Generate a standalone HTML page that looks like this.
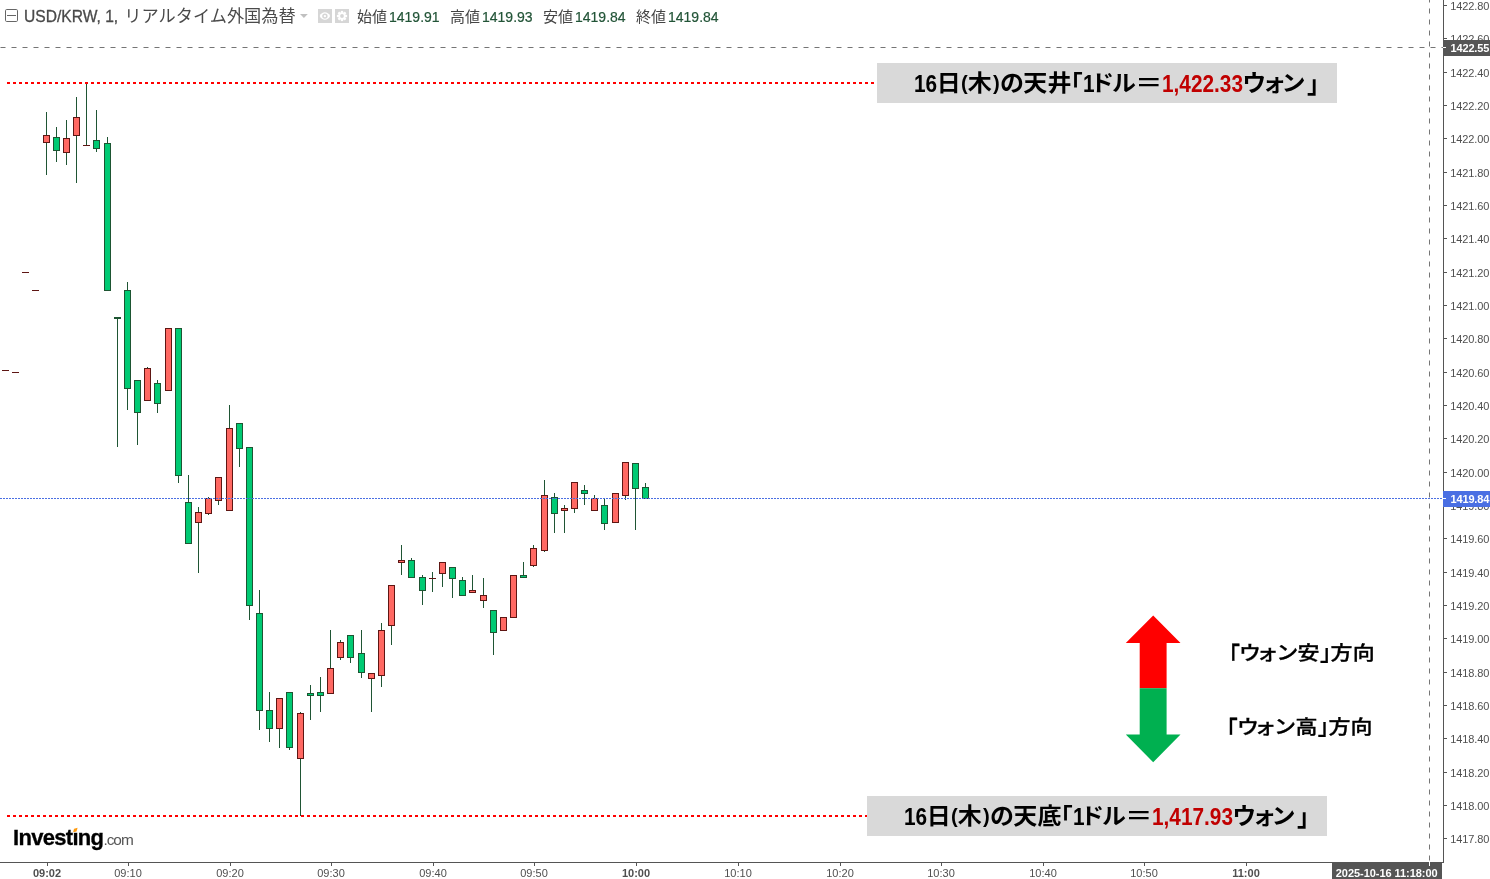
<!DOCTYPE html>
<html lang="ja">
<head>
<meta charset="utf-8">
<title>USD/KRW</title>
<style>
html,body{margin:0;padding:0;background:#fff;}
body{width:1490px;height:879px;position:relative;overflow:hidden;font-family:"Liberation Sans","Noto Sans CJK JP",sans-serif;}
#chart{position:absolute;left:0;top:0;}
.pl{position:absolute;left:1450.3px;font-size:11px;line-height:13px;color:#4f4f4f;white-space:nowrap;letter-spacing:-0.12px;}
.tl{position:absolute;top:867px;width:60px;text-align:center;font-size:11px;line-height:13px;color:#4f4f4f;white-space:nowrap;}
.tl.b{font-weight:bold;}
.tag{position:absolute;left:1443px;width:47px;height:16px;color:#fff;font-weight:bold;font-size:11px;line-height:16px;box-sizing:border-box;padding-left:7.5px;white-space:nowrap;overflow:hidden;letter-spacing:-0.15px;}
#hdr{position:absolute;left:24px;top:4px;height:24px;line-height:24px;white-space:nowrap;color:#4a4a4a;}
#hdr .en{font-size:15.6px;display:inline-block;width:100.3px;-webkit-text-stroke:0.3px #4a4a4a;}
#hdr .jp{font-size:17.2px;font-weight:400;}
.ohlc{position:absolute;top:5px;height:24px;line-height:24px;white-space:nowrap;font-size:15px;color:#444;}
.ohlc b{font-weight:normal;color:#225437;font-size:14px;margin-left:2px;-webkit-text-stroke:0.2px #225437;}
.note{position:absolute;width:460px;height:40px;background:#d9d9d9;font-weight:bold;color:#000;white-space:nowrap;}
.note span{position:absolute;top:1px;line-height:40px;white-space:nowrap;transform-origin:left center;}
.note .k{font-size:24px;transform:scale(1,0.93);}
.note .l{font-size:26px;transform:scale(0.8,0.93);}
.note .r{color:#c00000;}
.note .pr{font-size:22px;top:0;transform:scale(0.92,0.93);}
.note .eq{transform:scale(1.15,0.93);}
.note .n1{top:2px;}
.note .n2{top:1.6px;transform:scale(1,1.06);transform-origin:left 31px;}
.p{font-feature-settings:"palt";}
.dir{position:absolute;width:150px;height:30px;font-size:22px;font-weight:500;-webkit-text-stroke:0.35px #000;color:#000;white-space:nowrap;}
.dir span{position:absolute;top:0;line-height:30px;white-space:nowrap;transform:scale(1,0.88);transform-origin:left center;}
.dir .b1{transform:scale(1,1.21);transform-origin:left -1.3px;}
.dir .b2{transform:none;top:-0.9px;}
#logo{position:absolute;left:13px;top:825px;line-height:26px;white-space:nowrap;}
#logo .a{font-weight:bold;font-size:22px;color:#000;letter-spacing:-0.69px;-webkit-text-stroke:0.3px #000;}
#logo .b{font-size:15.4px;color:#555;letter-spacing:-1px;}
</style>
</head>
<body>
<svg id="chart" width="1490" height="879" viewBox="0 0 1490 879" shape-rendering="crispEdges">
<!-- crosshair -->
<line x1="0.5" y1="47.5" x2="1443" y2="47.5" stroke="#757575" stroke-width="1" stroke-dasharray="5 6" shape-rendering="geometricPrecision"/>
<line x1="1429.5" y1="-2.5" x2="1429.5" y2="862" stroke="#757575" stroke-width="1" stroke-dasharray="5 6" shape-rendering="geometricPrecision"/>
<!-- high / low lines -->
<line x1="7" y1="83" x2="877" y2="83" stroke="#ff0000" stroke-width="2" stroke-dasharray="3 3"/>
<line x1="7" y1="816" x2="867" y2="816" stroke="#ff0000" stroke-width="2" stroke-dasharray="3 3"/>
<!-- candles -->
<rect x="46" y="112" width="1" height="63" fill="#1f5534"/>
<rect x="43" y="135" width="7" height="8" fill="#5e1613"/>
<rect x="44" y="136" width="5" height="6" fill="#ff6862"/>
<rect x="56" y="127" width="1" height="35" fill="#1f5534"/>
<rect x="53" y="137" width="7" height="14" fill="#1d5532"/>
<rect x="54" y="138" width="5" height="12" fill="#00ca73"/>
<rect x="66" y="120" width="1" height="45" fill="#1f5534"/>
<rect x="63" y="138" width="7" height="15" fill="#5e1613"/>
<rect x="64" y="139" width="5" height="13" fill="#ff6862"/>
<rect x="76" y="97" width="1" height="86" fill="#1f5534"/>
<rect x="73" y="117" width="7" height="19" fill="#5e1613"/>
<rect x="74" y="118" width="5" height="17" fill="#ff6862"/>
<rect x="96" y="110" width="1" height="42" fill="#1f5534"/>
<rect x="93" y="140" width="7" height="9" fill="#1d5532"/>
<rect x="94" y="141" width="5" height="7" fill="#00ca73"/>
<rect x="107" y="137" width="1" height="154" fill="#1f5534"/>
<rect x="104" y="143" width="7" height="148" fill="#1d5532"/>
<rect x="105" y="144" width="5" height="146" fill="#00ca73"/>
<rect x="127" y="282" width="1" height="128" fill="#1f5534"/>
<rect x="124" y="290" width="7" height="99" fill="#1d5532"/>
<rect x="125" y="291" width="5" height="97" fill="#00ca73"/>
<rect x="137" y="380" width="1" height="65" fill="#1f5534"/>
<rect x="134" y="380" width="7" height="33" fill="#1d5532"/>
<rect x="135" y="381" width="5" height="31" fill="#00ca73"/>
<rect x="147" y="367" width="1" height="34" fill="#1f5534"/>
<rect x="144" y="368" width="7" height="33" fill="#5e1613"/>
<rect x="145" y="369" width="5" height="31" fill="#ff6862"/>
<rect x="157" y="380" width="1" height="33" fill="#1f5534"/>
<rect x="154" y="383" width="7" height="21" fill="#1d5532"/>
<rect x="155" y="384" width="5" height="19" fill="#00ca73"/>
<rect x="168" y="328" width="1" height="63" fill="#1f5534"/>
<rect x="165" y="328" width="7" height="63" fill="#5e1613"/>
<rect x="166" y="329" width="5" height="61" fill="#ff6862"/>
<rect x="178" y="328" width="1" height="155" fill="#1f5534"/>
<rect x="175" y="328" width="7" height="148" fill="#1d5532"/>
<rect x="176" y="329" width="5" height="146" fill="#00ca73"/>
<rect x="188" y="475" width="1" height="69" fill="#1f5534"/>
<rect x="185" y="502" width="7" height="42" fill="#1d5532"/>
<rect x="186" y="503" width="5" height="40" fill="#00ca73"/>
<rect x="198" y="507" width="1" height="66" fill="#1f5534"/>
<rect x="195" y="512" width="7" height="11" fill="#5e1613"/>
<rect x="196" y="513" width="5" height="9" fill="#ff6862"/>
<rect x="208" y="497" width="1" height="18" fill="#1f5534"/>
<rect x="205" y="498" width="7" height="16" fill="#5e1613"/>
<rect x="206" y="499" width="5" height="14" fill="#ff6862"/>
<rect x="218" y="477" width="1" height="28" fill="#1f5534"/>
<rect x="215" y="477" width="7" height="24" fill="#5e1613"/>
<rect x="216" y="478" width="5" height="22" fill="#ff6862"/>
<rect x="229" y="405" width="1" height="106" fill="#1f5534"/>
<rect x="226" y="428" width="7" height="83" fill="#5e1613"/>
<rect x="227" y="429" width="5" height="81" fill="#ff6862"/>
<rect x="239" y="423" width="1" height="44" fill="#1f5534"/>
<rect x="236" y="423" width="7" height="26" fill="#1d5532"/>
<rect x="237" y="424" width="5" height="24" fill="#00ca73"/>
<rect x="249" y="447" width="1" height="173" fill="#1f5534"/>
<rect x="246" y="447" width="7" height="159" fill="#1d5532"/>
<rect x="247" y="448" width="5" height="157" fill="#00ca73"/>
<rect x="259" y="590" width="1" height="140" fill="#1f5534"/>
<rect x="256" y="613" width="7" height="98" fill="#1d5532"/>
<rect x="257" y="614" width="5" height="96" fill="#00ca73"/>
<rect x="269" y="692" width="1" height="50" fill="#1f5534"/>
<rect x="266" y="710" width="7" height="19" fill="#1d5532"/>
<rect x="267" y="711" width="5" height="17" fill="#00ca73"/>
<rect x="279" y="698" width="1" height="50" fill="#1f5534"/>
<rect x="276" y="698" width="7" height="31" fill="#5e1613"/>
<rect x="277" y="699" width="5" height="29" fill="#ff6862"/>
<rect x="289" y="692" width="1" height="58" fill="#1f5534"/>
<rect x="286" y="692" width="7" height="56" fill="#1d5532"/>
<rect x="287" y="693" width="5" height="54" fill="#00ca73"/>
<rect x="300" y="712" width="1" height="104" fill="#1f5534"/>
<rect x="297" y="713" width="7" height="46" fill="#5e1613"/>
<rect x="298" y="714" width="5" height="44" fill="#ff6862"/>
<rect x="310" y="685" width="1" height="35" fill="#1f5534"/>
<rect x="307" y="693" width="7" height="3" fill="#1d5532"/>
<rect x="308" y="694" width="5" height="1" fill="#00ca73"/>
<rect x="320" y="677" width="1" height="35" fill="#1f5534"/>
<rect x="317" y="692" width="7" height="4" fill="#1d5532"/>
<rect x="318" y="693" width="5" height="2" fill="#00ca73"/>
<rect x="330" y="630" width="1" height="64" fill="#1f5534"/>
<rect x="327" y="668" width="7" height="26" fill="#5e1613"/>
<rect x="328" y="669" width="5" height="24" fill="#ff6862"/>
<rect x="340" y="640" width="1" height="20" fill="#1f5534"/>
<rect x="337" y="642" width="7" height="16" fill="#5e1613"/>
<rect x="338" y="643" width="5" height="14" fill="#ff6862"/>
<rect x="350" y="635" width="1" height="28" fill="#1f5534"/>
<rect x="347" y="635" width="7" height="23" fill="#1d5532"/>
<rect x="348" y="636" width="5" height="21" fill="#00ca73"/>
<rect x="361" y="630" width="1" height="48" fill="#1f5534"/>
<rect x="358" y="653" width="7" height="20" fill="#1d5532"/>
<rect x="359" y="654" width="5" height="18" fill="#00ca73"/>
<rect x="371" y="673" width="1" height="39" fill="#1f5534"/>
<rect x="368" y="673" width="7" height="6" fill="#5e1613"/>
<rect x="369" y="674" width="5" height="4" fill="#ff6862"/>
<rect x="381" y="623" width="1" height="64" fill="#1f5534"/>
<rect x="378" y="630" width="7" height="46" fill="#5e1613"/>
<rect x="379" y="631" width="5" height="44" fill="#ff6862"/>
<rect x="391" y="585" width="1" height="60" fill="#1f5534"/>
<rect x="388" y="585" width="7" height="41" fill="#5e1613"/>
<rect x="389" y="586" width="5" height="39" fill="#ff6862"/>
<rect x="401" y="545" width="1" height="30" fill="#1f5534"/>
<rect x="398" y="560" width="7" height="3" fill="#5e1613"/>
<rect x="399" y="561" width="5" height="1" fill="#ff6862"/>
<rect x="411" y="558" width="1" height="20" fill="#1f5534"/>
<rect x="408" y="560" width="7" height="18" fill="#1d5532"/>
<rect x="409" y="561" width="5" height="16" fill="#00ca73"/>
<rect x="422" y="575" width="1" height="30" fill="#1f5534"/>
<rect x="419" y="577" width="7" height="14" fill="#1d5532"/>
<rect x="420" y="578" width="5" height="12" fill="#00ca73"/>
<rect x="442" y="562" width="1" height="25" fill="#1f5534"/>
<rect x="439" y="562" width="7" height="12" fill="#5e1613"/>
<rect x="440" y="563" width="5" height="10" fill="#ff6862"/>
<rect x="452" y="567" width="1" height="31" fill="#1f5534"/>
<rect x="449" y="567" width="7" height="12" fill="#1d5532"/>
<rect x="450" y="568" width="5" height="10" fill="#00ca73"/>
<rect x="462" y="577" width="1" height="19" fill="#1f5534"/>
<rect x="459" y="580" width="7" height="16" fill="#1d5532"/>
<rect x="460" y="581" width="5" height="14" fill="#00ca73"/>
<rect x="472" y="575" width="1" height="18" fill="#1f5534"/>
<rect x="469" y="590" width="7" height="3" fill="#5e1613"/>
<rect x="470" y="591" width="5" height="1" fill="#ff6862"/>
<rect x="483" y="578" width="1" height="30" fill="#1f5534"/>
<rect x="480" y="595" width="7" height="6" fill="#5e1613"/>
<rect x="481" y="596" width="5" height="4" fill="#ff6862"/>
<rect x="493" y="610" width="1" height="45" fill="#1f5534"/>
<rect x="490" y="610" width="7" height="23" fill="#1d5532"/>
<rect x="491" y="611" width="5" height="21" fill="#00ca73"/>
<rect x="503" y="617" width="1" height="14" fill="#1f5534"/>
<rect x="500" y="617" width="7" height="14" fill="#5e1613"/>
<rect x="501" y="618" width="5" height="12" fill="#ff6862"/>
<rect x="513" y="575" width="1" height="43" fill="#1f5534"/>
<rect x="510" y="575" width="7" height="43" fill="#5e1613"/>
<rect x="511" y="576" width="5" height="41" fill="#ff6862"/>
<rect x="523" y="562" width="1" height="16" fill="#1f5534"/>
<rect x="520" y="575" width="7" height="3" fill="#1d5532"/>
<rect x="521" y="576" width="5" height="1" fill="#00ca73"/>
<rect x="533" y="545" width="1" height="22" fill="#1f5534"/>
<rect x="530" y="548" width="7" height="18" fill="#5e1613"/>
<rect x="531" y="549" width="5" height="16" fill="#ff6862"/>
<rect x="544" y="480" width="1" height="72" fill="#1f5534"/>
<rect x="541" y="495" width="7" height="56" fill="#5e1613"/>
<rect x="542" y="496" width="5" height="54" fill="#ff6862"/>
<rect x="554" y="493" width="1" height="40" fill="#1f5534"/>
<rect x="551" y="497" width="7" height="17" fill="#1d5532"/>
<rect x="552" y="498" width="5" height="15" fill="#00ca73"/>
<rect x="564" y="505" width="1" height="28" fill="#1f5534"/>
<rect x="561" y="508" width="7" height="3" fill="#5e1613"/>
<rect x="562" y="509" width="5" height="1" fill="#ff6862"/>
<rect x="574" y="482" width="1" height="31" fill="#1f5534"/>
<rect x="571" y="482" width="7" height="27" fill="#5e1613"/>
<rect x="572" y="483" width="5" height="25" fill="#ff6862"/>
<rect x="584" y="485" width="1" height="20" fill="#1f5534"/>
<rect x="581" y="490" width="7" height="4" fill="#1d5532"/>
<rect x="582" y="491" width="5" height="2" fill="#00ca73"/>
<rect x="594" y="495" width="1" height="16" fill="#1f5534"/>
<rect x="591" y="498" width="7" height="13" fill="#5e1613"/>
<rect x="592" y="499" width="5" height="11" fill="#ff6862"/>
<rect x="604" y="499" width="1" height="31" fill="#1f5534"/>
<rect x="601" y="505" width="7" height="19" fill="#1d5532"/>
<rect x="602" y="506" width="5" height="17" fill="#00ca73"/>
<rect x="615" y="493" width="1" height="30" fill="#1f5534"/>
<rect x="612" y="493" width="7" height="30" fill="#5e1613"/>
<rect x="613" y="494" width="5" height="28" fill="#ff6862"/>
<rect x="625" y="462" width="1" height="38" fill="#1f5534"/>
<rect x="622" y="462" width="7" height="34" fill="#5e1613"/>
<rect x="623" y="463" width="5" height="32" fill="#ff6862"/>
<rect x="635" y="463" width="1" height="67" fill="#1f5534"/>
<rect x="632" y="463" width="7" height="26" fill="#1d5532"/>
<rect x="633" y="464" width="5" height="24" fill="#00ca73"/>
<rect x="645" y="483" width="1" height="16" fill="#1f5534"/>
<rect x="642" y="487" width="7" height="12" fill="#1d5532"/>
<rect x="643" y="488" width="5" height="10" fill="#00ca73"/>
<rect x="2" y="370" width="7" height="1" fill="#5e1613"/>
<rect x="12" y="372" width="7" height="1" fill="#5e1613"/>
<rect x="22" y="272" width="7" height="1" fill="#5e1613"/>
<rect x="32" y="290" width="7" height="1" fill="#5e1613"/>
<rect x="86" y="84" width="1" height="61" fill="#1f5534"/>
<rect x="83" y="145" width="7" height="1" fill="#5e1613"/>
<rect x="117" y="318" width="1" height="129" fill="#1f5534"/>
<rect x="114" y="317" width="7" height="2" fill="#1d5532"/>
<rect x="432" y="572" width="1" height="20" fill="#1f5534"/>
<rect x="429" y="578" width="7" height="1" fill="#5e1613"/>
<!-- last price line -->
<line x1="0" y1="498.5" x2="1443" y2="498.5" stroke="#4a6fe3" stroke-width="1" stroke-dasharray="2 1"/>
<!-- axes -->
<rect x="1443" y="0" width="1" height="863" fill="#555"/>
<rect x="0" y="862" width="1444" height="1" fill="#555"/>
<rect x="1444" y="5" width="3" height="1" fill="#555"/>
<rect x="1444" y="38" width="3" height="1" fill="#555"/>
<rect x="1444" y="72" width="3" height="1" fill="#555"/>
<rect x="1444" y="105" width="3" height="1" fill="#555"/>
<rect x="1444" y="138" width="3" height="1" fill="#555"/>
<rect x="1444" y="172" width="3" height="1" fill="#555"/>
<rect x="1444" y="205" width="3" height="1" fill="#555"/>
<rect x="1444" y="238" width="3" height="1" fill="#555"/>
<rect x="1444" y="272" width="3" height="1" fill="#555"/>
<rect x="1444" y="305" width="3" height="1" fill="#555"/>
<rect x="1444" y="338" width="3" height="1" fill="#555"/>
<rect x="1444" y="372" width="3" height="1" fill="#555"/>
<rect x="1444" y="405" width="3" height="1" fill="#555"/>
<rect x="1444" y="438" width="3" height="1" fill="#555"/>
<rect x="1444" y="472" width="3" height="1" fill="#555"/>
<rect x="1444" y="505" width="3" height="1" fill="#555"/>
<rect x="1444" y="538" width="3" height="1" fill="#555"/>
<rect x="1444" y="572" width="3" height="1" fill="#555"/>
<rect x="1444" y="605" width="3" height="1" fill="#555"/>
<rect x="1444" y="638" width="3" height="1" fill="#555"/>
<rect x="1444" y="672" width="3" height="1" fill="#555"/>
<rect x="1444" y="705" width="3" height="1" fill="#555"/>
<rect x="1444" y="738" width="3" height="1" fill="#555"/>
<rect x="1444" y="772" width="3" height="1" fill="#555"/>
<rect x="1444" y="805" width="3" height="1" fill="#555"/>
<rect x="1444" y="838" width="3" height="1" fill="#555"/>
<rect x="47" y="863" width="1" height="3" fill="#555"/>
<rect x="128" y="863" width="1" height="3" fill="#555"/>
<rect x="230" y="863" width="1" height="3" fill="#555"/>
<rect x="331" y="863" width="1" height="3" fill="#555"/>
<rect x="433" y="863" width="1" height="3" fill="#555"/>
<rect x="534" y="863" width="1" height="3" fill="#555"/>
<rect x="636" y="863" width="1" height="3" fill="#555"/>
<rect x="738" y="863" width="1" height="3" fill="#555"/>
<rect x="840" y="863" width="1" height="3" fill="#555"/>
<rect x="941" y="863" width="1" height="3" fill="#555"/>
<rect x="1043" y="863" width="1" height="3" fill="#555"/>
<rect x="1144" y="863" width="1" height="3" fill="#555"/>
<rect x="1246" y="863" width="1" height="3" fill="#555"/>
<!-- arrows -->
<polygon points="1153.2,615.5 1180.5,643 1166.6,643 1166.6,688.2 1139.7,688.2 1139.7,643 1125.8,643" fill="#ff0000" shape-rendering="geometricPrecision"/>
<polygon points="1139.7,688.2 1166.6,688.2 1166.6,734.5 1180.5,734.5 1153.2,762.2 1125.8,734.5 1139.7,734.5" fill="#00b050" shape-rendering="geometricPrecision"/>
<!-- time tag -->
<rect x="1332" y="863" width="110" height="16" fill="#555"/>
<rect x="1429" y="862" width="1" height="4" fill="#fff"/>
<!-- header icons -->
<rect x="5.5" y="9.5" width="12" height="12" rx="1.2" ry="1.2" fill="#fff" stroke="#666" shape-rendering="geometricPrecision"/>
<rect x="7" y="15" width="9" height="1" fill="#666"/>
<polygon points="300,14 307.8,14 303.9,18" fill="#c0c0c0" shape-rendering="geometricPrecision"/>
<rect x="318" y="9" width="14" height="14" fill="#d6d6d6"/>
<rect x="335" y="9" width="14" height="14" fill="#d6d6d6"/>
<g shape-rendering="geometricPrecision">
<path d="M319.7,16.1 C321.8,11.1 328,11.1 330.1,16.1 C328,21.1 321.8,21.1 319.7,16.1 Z" fill="#fff"/>
<circle cx="324.9" cy="16.1" r="2.7" fill="#d6d6d6"/>
<circle cx="324.9" cy="16.1" r="1.2" fill="#fff"/>
<g transform="translate(342,16)" fill="#fff"><circle r="3.7"/><rect x="-1.15" y="-5.1" width="2.3" height="3" transform="rotate(0)"/><rect x="-1.15" y="-5.1" width="2.3" height="3" transform="rotate(45)"/><rect x="-1.15" y="-5.1" width="2.3" height="3" transform="rotate(90)"/><rect x="-1.15" y="-5.1" width="2.3" height="3" transform="rotate(135)"/><rect x="-1.15" y="-5.1" width="2.3" height="3" transform="rotate(180)"/><rect x="-1.15" y="-5.1" width="2.3" height="3" transform="rotate(225)"/><rect x="-1.15" y="-5.1" width="2.3" height="3" transform="rotate(270)"/><rect x="-1.15" y="-5.1" width="2.3" height="3" transform="rotate(315)"/></g>
<circle cx="342" cy="16" r="1.9" fill="#d6d6d6"/>
</g>
</svg>

<div class="pl" style="top:0px">1422.80</div>
<div class="pl" style="top:33px">1422.60</div>
<div class="pl" style="top:67px">1422.40</div>
<div class="pl" style="top:100px">1422.20</div>
<div class="pl" style="top:133px">1422.00</div>
<div class="pl" style="top:167px">1421.80</div>
<div class="pl" style="top:200px">1421.60</div>
<div class="pl" style="top:233px">1421.40</div>
<div class="pl" style="top:267px">1421.20</div>
<div class="pl" style="top:300px">1421.00</div>
<div class="pl" style="top:333px">1420.80</div>
<div class="pl" style="top:367px">1420.60</div>
<div class="pl" style="top:400px">1420.40</div>
<div class="pl" style="top:433px">1420.20</div>
<div class="pl" style="top:467px">1420.00</div>
<div class="pl" style="top:500px">1419.80</div>
<div class="pl" style="top:533px">1419.60</div>
<div class="pl" style="top:567px">1419.40</div>
<div class="pl" style="top:600px">1419.20</div>
<div class="pl" style="top:633px">1419.00</div>
<div class="pl" style="top:667px">1418.80</div>
<div class="pl" style="top:700px">1418.60</div>
<div class="pl" style="top:733px">1418.40</div>
<div class="pl" style="top:767px">1418.20</div>
<div class="pl" style="top:800px">1418.00</div>
<div class="pl" style="top:833px">1417.80</div>
<div class="tl b" style="left:17px">09:02</div>
<div class="tl" style="left:98px">09:10</div>
<div class="tl" style="left:200px">09:20</div>
<div class="tl" style="left:301px">09:30</div>
<div class="tl" style="left:403px">09:40</div>
<div class="tl" style="left:504px">09:50</div>
<div class="tl b" style="left:606px">10:00</div>
<div class="tl" style="left:708px">10:10</div>
<div class="tl" style="left:810px">10:20</div>
<div class="tl" style="left:911px">10:30</div>
<div class="tl" style="left:1013px">10:40</div>
<div class="tl" style="left:1114px">10:50</div>
<div class="tl b" style="left:1216px">11:00</div>

<div class="tag" style="top:40px;background:#555;">1422.55</div>
<div class="tag" style="top:491px;background:#4a6fe3;">1419.84</div>
<div style="position:absolute;left:1335.8px;top:865px;height:16px;line-height:16px;font-size:11px;font-weight:bold;color:#fff;white-space:nowrap;letter-spacing:-0.05px;">2025-10-16 11:18:00</div>
<svg style="position:absolute;left:1443px;top:47px" width="3" height="1"><rect width="3" height="1" fill="#fff"/></svg>
<svg style="position:absolute;left:1443px;top:498px" width="3" height="1"><rect width="3" height="1" fill="#fff"/></svg>

<div id="hdr"><span class="en">USD/KRW, 1, </span><span class="jp">リアルタイム外国為替</span></div>
<div class="ohlc" style="left:357px">始値<b>1419.91</b></div>
<div class="ohlc" style="left:450px">高値<b>1419.93</b></div>
<div class="ohlc" style="left:543px">安値<b>1419.84</b></div>
<div class="ohlc" style="left:636px">終値<b>1419.84</b></div>

<div class="note" style="left:877px;top:63px"><span class="l" style="left:37.40px">16</span><span class="k" style="left:59.80px">日</span><span class="l pr" style="left:84.00px">(</span><span class="k" style="left:90.80px">木</span><span class="l pr" style="left:115.90px">)</span><span class="k" style="left:122.90px">の</span><span class="k" style="left:146.25px">天</span><span class="k" style="left:170.40px">井</span><span class="k p n1" style="left:193.35px">「</span><span class="l" style="left:205.60px">1</span><span class="k p" style="left:215.00px">ド</span><span class="k p" style="left:235.45px">ル</span><span class="k p eq" style="left:258.15px">＝</span><span class="l r" style="left:284.70px">1,422.33</span><span class="k p" style="left:365.85px">ウ</span><span class="k p" style="left:387.00px">ォ</span><span class="k p" style="left:405.60px">ン</span><span class="k p n2" style="left:430.40px">」</span></div>
<div class="note" style="left:867px;top:796px"><span class="l" style="left:37.40px">16</span><span class="k" style="left:59.80px">日</span><span class="l pr" style="left:84.00px">(</span><span class="k" style="left:90.80px">木</span><span class="l pr" style="left:115.90px">)</span><span class="k" style="left:122.90px">の</span><span class="k" style="left:146.25px">天</span><span class="k" style="left:170.40px">底</span><span class="k p n1" style="left:193.35px">「</span><span class="l" style="left:205.60px">1</span><span class="k p" style="left:215.00px">ド</span><span class="k p" style="left:235.45px">ル</span><span class="k p eq" style="left:258.15px">＝</span><span class="l r" style="left:284.70px">1,417.93</span><span class="k p" style="left:365.85px">ウ</span><span class="k p" style="left:387.00px">ォ</span><span class="k p" style="left:405.60px">ン</span><span class="k p n2" style="left:430.40px">」</span></div>
<div class="dir" style="left:1228px;top:639px"><span class="p b1" style="left:0.65px">「</span><span style="left:11.10px">ウ</span><span style="left:28.50px">ォ</span><span style="left:48.20px">ン</span><span style="left:69.60px">安</span><span class="p b2" style="left:92.40px">」</span><span style="left:102.60px">方</span><span style="left:124.65px">向</span></div>
<div class="dir" style="left:1225.8px;top:713px"><span class="p b1" style="left:0.65px">「</span><span style="left:11.10px">ウ</span><span style="left:28.50px">ォ</span><span style="left:48.20px">ン</span><span style="left:69.60px">高</span><span class="p b2" style="left:92.40px">」</span><span style="left:102.60px">方</span><span style="left:124.65px">向</span></div>

<div id="logo"><span class="a">Investing</span><span class="b">.com</span></div>
<svg style="position:absolute;left:72px;top:826px" width="8" height="7"><rect x="1.2" y="1" width="5.6" height="5.2" fill="#fff"/><polygon points="1.1,6.3 2.1,2.8 5.6,1.8 4.5,5.4" fill="#ff9a0e"/></svg>

</body>
</html>
